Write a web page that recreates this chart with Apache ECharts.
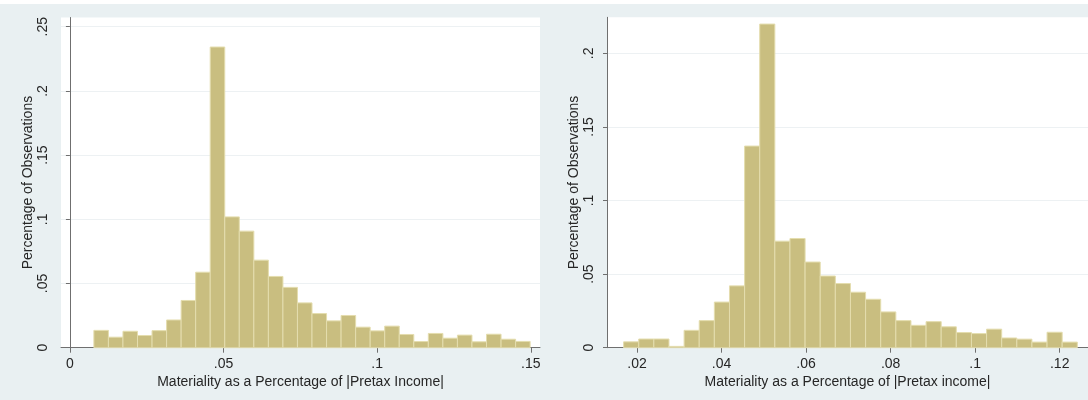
<!DOCTYPE html>
<html>
<head>
<meta charset="utf-8">
<script src="https://cdn.jsdelivr.net/npm/echarts@6/dist/echarts.min.js"></script>
<style>
  html, body { margin: 0; padding: 0; background: #ffffff; }
  #chart { width: 1088px; height: 400px; }
</style>
</head>
<body>
<div id="chart"></div>
<script>
// ---------- Data ----------
// Left histogram: Materiality as a Percentage of |Pretax Income|
const leftBinStart = 0.0078;
const leftBinWidth = 0.004733;
const leftValues = [0.0135, 0.0082, 0.0128, 0.0095, 0.0133, 0.0216, 0.0368, 0.0588, 0.2342, 0.1019,
                    0.0908, 0.0682, 0.0555, 0.0470, 0.0349, 0.0266, 0.0209, 0.0251, 0.0160, 0.0131,
                    0.0168, 0.0103, 0.0048, 0.0111, 0.0074, 0.0098, 0.0046, 0.0105, 0.0066, 0.0049];
const leftXTicks = [0, 0.05, 0.1, 0.15];
const leftYTicks = [0, 0.05, 0.1, 0.15, 0.2, 0.25];

// Right histogram: Materiality as a Percentage of |Pretax income|
const rightBinStart = 0.01683;
const rightBinWidth = 0.003578;
const rightValues = [0.0040, 0.0059, 0.0059, 0.0009, 0.0118, 0.0184, 0.0310, 0.0420, 0.1370, 0.2199,
                     0.0724, 0.0742, 0.0582, 0.0487, 0.0436, 0.0377, 0.0329, 0.0243, 0.0184, 0.0152,
                     0.0177, 0.0142, 0.0103, 0.0096, 0.0126, 0.0066, 0.0058, 0.0038, 0.0105, 0.0038];
const rightXTicks = [0.02, 0.04, 0.06, 0.08, 0.1, 0.12];
const rightYTicks = [0, 0.05, 0.1, 0.15, 0.2];

const yTitle = 'Percentage of Observations';
const leftXTitle = 'Materiality as a Percentage of |Pretax Income|';
const rightXTitle = 'Materiality as a Percentage of |Pretax income|';

// ---------- Helpers ----------
function fmt(v) {
  const r = Math.round(v * 10000) / 10000;
  if (r === 0) return '0';
  return String(r).replace(/^0\./, '.');
}
function binData(start, width, values) {
  return values.map((v, i) => [start + i * width, start + (i + 1) * width, v]);
}

const BAR = '#C9BE80';
const BAR_EDGE = '#E4DDAE';
const AXIS = '#6f6f6f';
const TXT = '#262626';
const GRID = '#EDF1F3';
const FONT = 'Liberation Sans, Arial, sans-serif';
const FS = 14;

function renderBar(params, api) {
  const x0 = api.value(0), x1 = api.value(1), h = api.value(2);
  const p0 = api.coord([x0, h]);
  const p1 = api.coord([x1, 0]);
  return {
    type: 'rect',
    shape: { x: p0[0], y: p0[1], width: p1[0] - p0[0], height: p1[1] - p0[1] },
    style: { fill: BAR, stroke: BAR_EDGE, lineWidth: 1 }
  };
}

function xAxisCfg(gridIndex, min, max, ticks, title) {
  return {
    type: 'value', gridIndex, min, max,
    axisLine: { show: true, lineStyle: { color: AXIS, width: 1 } },
    axisTick: { show: true, length: 5, customValues: ticks, lineStyle: { color: AXIS } },
    axisLabel: { customValues: ticks, formatter: fmt, color: TXT, fontSize: FS, fontFamily: FONT, margin: 9 },
    splitLine: { show: false },
    name: title, nameLocation: 'middle', nameGap: 26,
    nameTextStyle: { color: TXT, fontSize: FS, fontFamily: FONT }
  };
}
function yAxisCfg(gridIndex, max, ticks) {
  return {
    type: 'value', gridIndex, min: 0, max, interval: 0.05,
    axisLine: { show: true, lineStyle: { color: AXIS, width: 1 } },
    axisTick: { show: true, length: 4, customValues: ticks, lineStyle: { color: AXIS } },
    axisLabel: {
      customValues: ticks, formatter: fmt, rotate: 90,
      color: TXT, fontSize: FS, fontFamily: FONT, margin: 11
    },
    splitLine: { show: true, lineStyle: { color: GRID, width: 1 } },
    name: yTitle, nameLocation: 'middle', nameGap: 22, nameRotate: 90,
    nameTextStyle: { color: TXT, fontSize: FS, fontFamily: FONT }
  };
}

const chart = echarts.init(document.getElementById('chart'), null, { renderer: 'canvas' });
chart.setOption({
  animation: false,
  backgroundColor: '#E9F0F2',
  graphic: [
    { type: 'rect', shape: { x: 0, y: 0, width: 1088, height: 4 }, style: { fill: '#ffffff' }, z: -10 }
  ],
  grid: [
    { left: 61, top: 17.5, width: 479, height: 330.2, backgroundColor: '#ffffff', show: true, borderWidth: 0 },
    { left: 607, top: 17.3, width: 481, height: 330.4, backgroundColor: '#ffffff', show: true, borderWidth: 0 }
  ],
  xAxis: [
    xAxisCfg(0, -0.0029, 0.153, leftXTicks, leftXTitle),
    xAxisCfg(1, 0.0129, 0.1267, rightXTicks, rightXTitle)
  ],
  yAxis: [
    yAxisCfg(0, 0.2572, leftYTicks),
    yAxisCfg(1, 0.2245, rightYTicks)
  ],
  series: [
    { type: 'custom', xAxisIndex: 0, yAxisIndex: 0, renderItem: renderBar,
      encode: { x: [0, 1], y: 2 }, data: binData(leftBinStart, leftBinWidth, leftValues), silent: true },
    { type: 'custom', xAxisIndex: 1, yAxisIndex: 1, renderItem: renderBar,
      encode: { x: [0, 1], y: 2 }, data: binData(rightBinStart, rightBinWidth, rightValues), silent: true }
  ]
});
</script>
</body>
</html>
